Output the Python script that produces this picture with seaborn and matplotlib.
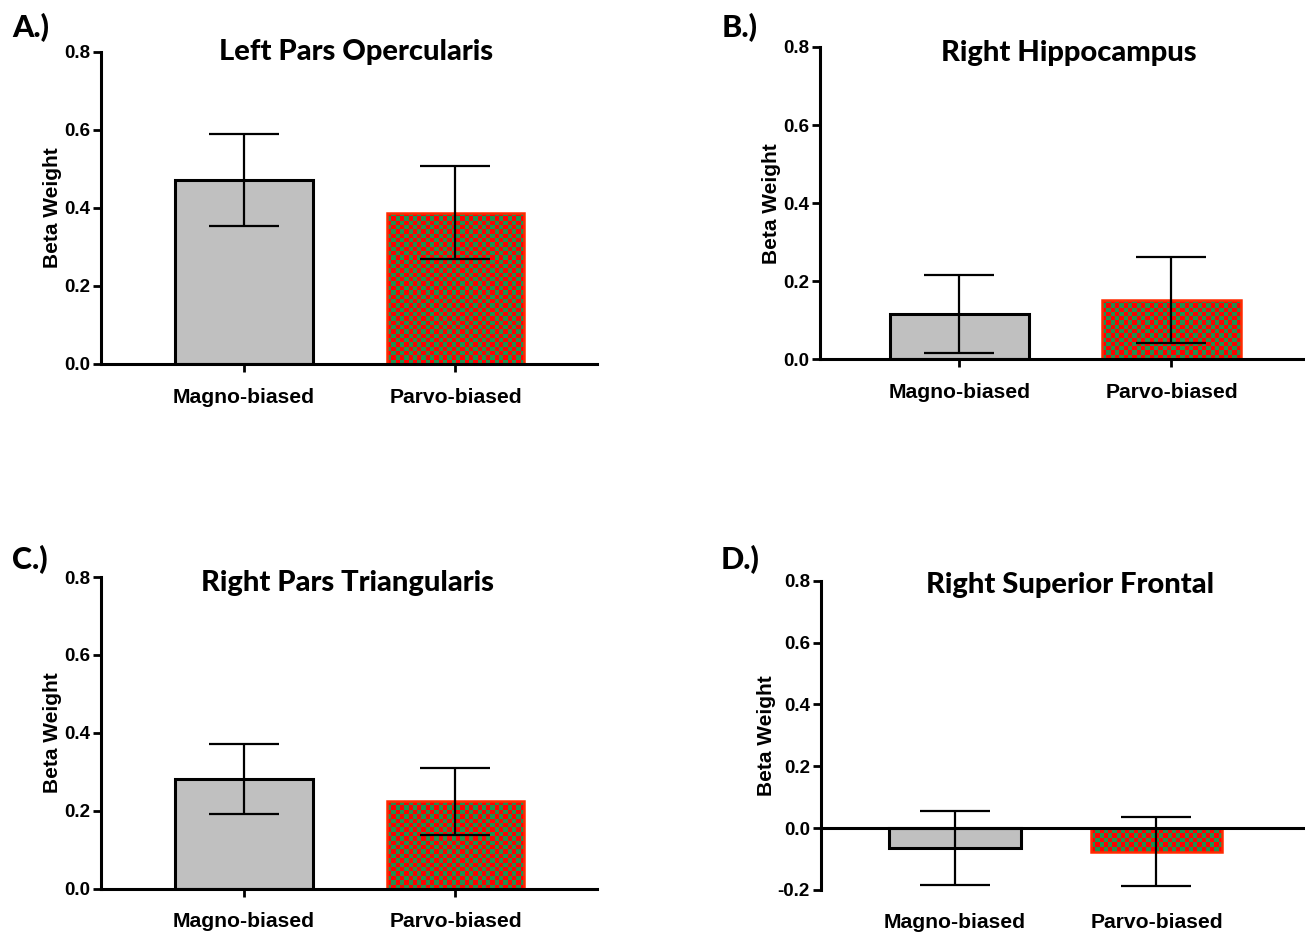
import numpy as np
import pandas as pd
import matplotlib
matplotlib.use("Agg")
import matplotlib.pyplot as plt
import seaborn as sns
from matplotlib.patches import Rectangle

# ---------------- data ----------------
conditions = ["Magno-biased", "Parvo-biased"]
titles = ["Left Pars Opercularis", "Right Hippocampus",
          "Right Pars Triangularis", "Right Superior Frontal"]
panel_labels = ["A.)", "B.)", "C.)", "D.)"]

means_A = [0.473, 0.388]
sem_A = [0.118, 0.120]
means_B = [0.116, 0.152]
sem_B = [0.099, 0.109]
means_C = [0.281, 0.224]
sem_C = [0.090, 0.086]
means_D = [-0.065, -0.076]
sem_D = [0.120, 0.112]

yticks_pos = [0.0, 0.2, 0.4, 0.6, 0.8]
yticks_D = [-0.2, 0.0, 0.2, 0.4, 0.6, 0.8]
ylabel = "Beta Weight"

# ---------------- style ----------------
sns.set_style("ticks")
plt.rcParams["font.family"] = ["Liberation Sans", "DejaVu Sans"]
plt.rcParams["font.weight"] = "bold"
for k in ["text.color", "axes.labelcolor", "xtick.color", "ytick.color", "axes.edgecolor"]:
    plt.rcParams[k] = "black"

MAGNO_FACE = "#c0c0c0"
RED = "#ff0000"
GREEN = "#21904f"
PARVO_EDGE = "#ff2a00"
TITLE_FONT = ["Lato", "DejaVu Sans"]

fig = plt.figure(figsize=(13.05, 9.34), dpi=100)

W, H = 1305, 934
def pos(l, r, t, b):
    return [l / W, 1 - b / H, (r - l) / W, (b - t) / H]

panels = [
    dict(rect=pos(101, 597, 52, 364), means=means_A, sems=sem_A, yt=yticks_pos,
         ylim=(0, 0.8), xlim=(-0.676, 1.669), letter=(31, 28), zero_spine=False,
         title_x=0.514, title_y=1.0),
    dict(rect=pos(820, 1305, 47, 359.3), means=means_B, sems=sem_B, yt=yticks_pos,
         ylim=(0, 0.8), xlim=(-0.658, 1.63), letter=(740, 28), zero_spine=False,
         title_x=0.514, title_y=0.98),
    dict(rect=pos(101, 597, 577, 888.7), means=means_C, sems=sem_C, yt=yticks_pos,
         ylim=(0, 0.8), xlim=(-0.676, 1.669), letter=(30, 560), zero_spine=False,
         title_x=0.497, title_y=0.98),
    dict(rect=pos(821, 1305, 580.7, 890), means=means_D, sems=sem_D, yt=yticks_D,
         ylim=(-0.2, 0.8), xlim=(-0.665, 1.737), letter=(740, 560), zero_spine=True,
         title_x=0.514, title_y=0.985),
]

axes = []
for i, p in enumerate(panels):
    ax = fig.add_axes(p["rect"])
    df = pd.DataFrame({"cond": conditions, "beta": p["means"]})
    sns.barplot(data=df, x="cond", y="beta", hue="cond",
                palette={conditions[0]: MAGNO_FACE, conditions[1]: RED},
                errorbar=None, width=0.652, legend=False, ax=ax, zorder=2)
    bars = ax.patches
    bars[0].set_edgecolor("black")
    bars[0].set_linewidth(2.2)
    bars[1].set_edgecolor(PARVO_EDGE)
    bars[1].set_linewidth(0.0)

    ax.errorbar(x=[0, 1], y=p["means"], yerr=p["sems"], fmt="none",
                ecolor="black", elinewidth=1.6, capsize=25, capthick=1.6, zorder=6)

    ax.set_xlim(*p["xlim"])
    ax.set_ylim(*p["ylim"])
    ax.set_yticks(p["yt"])
    ax.set_yticklabels([f"{v:.1f}" for v in p["yt"]], fontsize=13.5, fontweight="bold")
    ax.set_xticks([0, 1])
    ax.set_xlabel("")
    ax.set_ylabel(ylabel, fontsize=15, fontweight="bold", labelpad=1)

    for s in ["top", "right"]:
        ax.spines[s].set_visible(False)
    ax.spines["left"].set_linewidth(2.2)
    ax.spines["bottom"].set_linewidth(2.2)
    ax.spines["left"].set_bounds(p["ylim"][0], p["ylim"][1])
    ax.tick_params(axis="y", direction="out", length=6, width=2.0, pad=2)
    if p["zero_spine"]:
        ax.spines["bottom"].set_position(("data", 0))
        ax.tick_params(axis="x", direction="out", length=6, width=2.0, pad=55)
    else:
        ax.tick_params(axis="x", direction="out", length=6, width=2.0, pad=11)
    ax.set_xticklabels(conditions, fontsize=15.2, fontweight="bold")
    ax.spines["left"].set_zorder(7)
    ax.spines["bottom"].set_zorder(7)

    ax.text(p["title_x"], p["title_y"], titles[i], transform=ax.transAxes,
            ha="center", va="center", fontsize=21, fontweight=900, family=TITLE_FONT)
    lx, ly = p["letter"]
    fig.text(lx / W, 1 - ly / H, panel_labels[i], ha="center", va="center",
             fontsize=22, fontweight=900, family=TITLE_FONT)
    axes.append(ax)

# checkerboard fill for the parvo bars
fig.canvas.draw()
for ax, p in zip(axes, panels):
    bar = ax.patches[1]
    ext = bar.get_window_extent()
    ncol = max(1, int(round(ext.width / 4.3)))
    nrow = max(1, int(round(ext.height / 4.3)))
    grid = (np.add.outer(np.arange(nrow), np.arange(ncol)) % 2).astype(bool)
    img = np.zeros((nrow, ncol, 3))
    red = np.array(matplotlib.colors.to_rgb(RED))
    green = np.array(matplotlib.colors.to_rgb(GREEN))
    img[grid] = green
    img[~grid] = red
    x0 = bar.get_x()
    x1 = x0 + bar.get_width()
    y0 = bar.get_y()
    y1 = y0 + bar.get_height()
    im = ax.imshow(img, extent=(x0, x1, min(y0, y1), max(y0, y1)), aspect="auto",
                   interpolation="nearest", zorder=3)
    im.set_clip_path(bar)
    ax.add_patch(Rectangle((x0, y0), bar.get_width(), bar.get_height(), fill=False,
                           edgecolor=PARVO_EDGE, linewidth=1.8, zorder=4))
    ax.set_xlim(*p["xlim"])
    ax.set_ylim(*p["ylim"])

fig.savefig("out.png", dpi=100)
